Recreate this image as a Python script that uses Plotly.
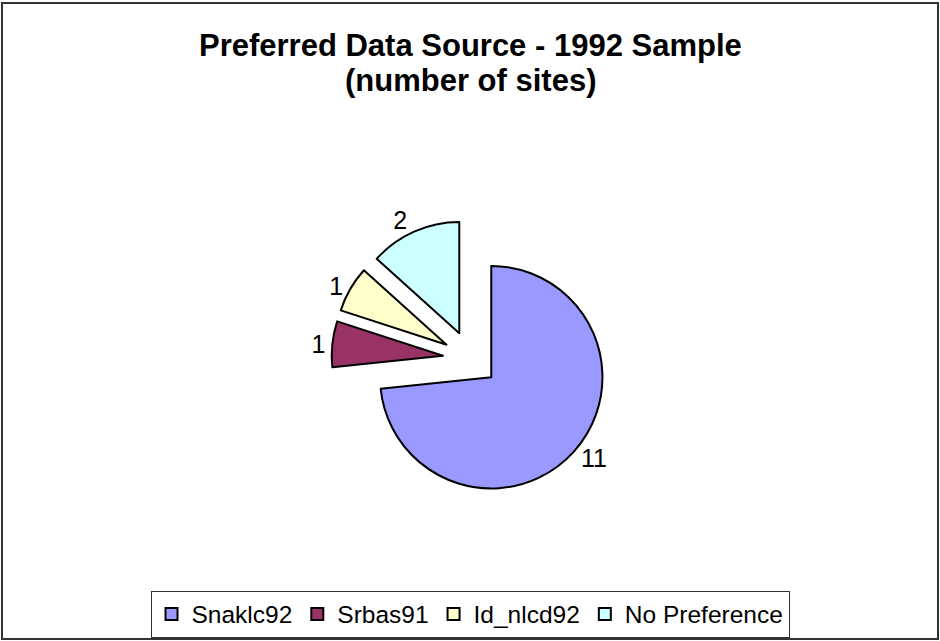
import plotly.graph_objects as go

# ---- data ----
categories = ["Snaklc92", "Srbas91", "Id_nlcd92", "No Preference"]
site_counts = [11, 1, 1, 2]
slice_colors = ["#9999FF", "#993366", "#FFFFCC", "#CCFFFF"]
pull_amount = [0.25, 0.25, 0.25, 0.25]
title_lines = ["Preferred Data Source - 1992 Sample", "(number of sites)"]

W, H = 940, 641
FONT = "Arial, Liberation Sans, Helvetica, sans-serif"

fig = go.Figure(
    go.Pie(
        labels=categories,
        values=site_counts,
        sort=False,
        direction="clockwise",
        rotation=0,
        pull=pull_amount,
        marker=dict(colors=slice_colors, line=dict(color="#000000", width=2)),
        textinfo="value",
        textposition="outside",
        outsidetextfont=dict(family=FONT, size=25, color="#000000"),
        hoverinfo="label+value",
        domain=dict(x=[331.6 / W, 609.6 / W], y=[1 - 497.6 / H, 1 - 219.6 / H]),
    )
)

annotations = []
for text, ypx in zip(title_lines, [46, 81]):
    annotations.append(
        dict(
            text="<b>" + text + "</b>",
            xref="paper",
            yref="paper",
            x=0.5,
            xanchor="center",
            y=1 - ypx / H,
            yanchor="middle",
            showarrow=False,
            font=dict(family=FONT, size=31, color="#000000"),
        )
    )

fig.update_layout(
    width=W,
    height=H,
    margin=dict(l=0, r=0, t=0, b=0),
    paper_bgcolor="#FFFFFF",
    plot_bgcolor="#FFFFFF",
    font=dict(family=FONT, color="#000000"),
    annotations=annotations,
    showlegend=True,
    legend=dict(
        orientation="h",
        x=0.5,
        xanchor="center",
        y=1 - 614 / H,
        yanchor="middle",
        font=dict(family=FONT, size=24.5, color="#000000"),
        bordercolor="#333333",
        borderwidth=1,
        bgcolor="#FFFFFF",
        traceorder="normal",
        itemwidth=30,
    ),
    shapes=[
        dict(
            type="rect",
            xref="paper",
            yref="paper",
            x0=2 / W,
            x1=938 / W,
            y0=1 - 639 / H,
            y1=1 - 3 / H,
            line=dict(color="#333333", width=2),
            fillcolor="rgba(0,0,0,0)",
            layer="below",
        )
    ],
)

fig.write_html(
    "out.html",
    config={"displayModeBar": False},
    post_script="document.body.style.margin='0';document.body.style.overflow='hidden';",
)
